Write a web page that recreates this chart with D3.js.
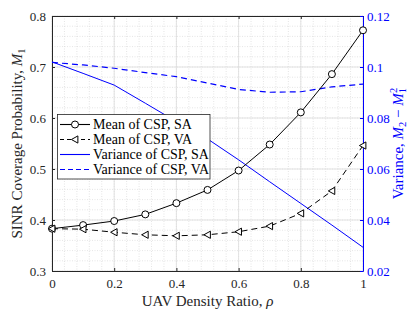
<!DOCTYPE html>
<html><head><meta charset="utf-8">
<script src="https://cdn.jsdelivr.net/npm/d3@7"></script>
<style>body{margin:0;background:#fff}svg{display:block}svg text{font-family:'Liberation Serif','DejaVu Serif',serif !important}</style>
</head><body><svg id="c" width="415" height="312" font-family="Liberation Serif, serif"></svg>
<script>
const rho = [0,0.1,0.2,0.3,0.4,0.5,0.6,0.7,0.8,0.9,1.0];
const meanSA = [0.383,0.390,0.398,0.411,0.433,0.459,0.497,0.548,0.611,0.686,0.772];
const meanVA = [0.383,0.382,0.376,0.371,0.369,0.371,0.377,0.388,0.413,0.457,0.546];
const varSA = [0.102,0.0975,0.0929,0.0858,0.0786,0.0718,0.0636,0.055,0.0465,0.038,0.0293];
const varVA = [0.1018,0.1008,0.0995,0.0978,0.0962,0.0937,0.0912,0.0901,0.0903,0.0922,0.0933];
const xTicks = [0,0.2,0.4,0.6,0.8,1];
const xTickLabels = ["0","0.2","0.4","0.6","0.8","1"];
const yTicks = [0.3,0.4,0.5,0.6,0.7,0.8];
const y2Ticks = [0.02,0.04,0.06,0.08,0.1,0.12];
const legendLabels = ["Mean of CSP, SA","Mean of CSP, VA","Variance of CSP, SA","Variance of CSP, VA"];

const svg = d3.select("#c");
const L=52, R=363, T=16, B=271;
const x = d3.scaleLinear().domain([0,1]).range([L,R]);
const y = d3.scaleLinear().domain([0.3,0.8]).range([B,T]);
const y2 = d3.scaleLinear().domain([0.02,0.12]).range([B,T]);
const axisCol="#262626", blue="#0000ff";
const FF="'Liberation Serif','DejaVu Serif',serif";

// minor grid
const g = svg.append("g");
d3.range(0,1.0001,0.04).forEach(v=>{ g.append("line").attr("x1",x(v)).attr("x2",x(v)).attr("y1",T).attr("y2",B).attr("stroke","#d4d4d4").attr("stroke-width",0.6).attr("stroke-dasharray","1,1.5");});
d3.range(0.3,0.8001,0.02).forEach(v=>{ g.append("line").attr("y1",y(v)).attr("y2",y(v)).attr("x1",L).attr("x2",R).attr("stroke","#d4d4d4").attr("stroke-width",0.6).attr("stroke-dasharray","1,1.5");});
// major grid
xTicks.forEach(v=>g.append("line").attr("x1",x(v)).attr("x2",x(v)).attr("y1",T).attr("y2",B).attr("stroke","#dcdcdc").attr("stroke-width",0.8));
yTicks.forEach(v=>g.append("line").attr("y1",y(v)).attr("y2",y(v)).attr("x1",L).attr("x2",R).attr("stroke","#dcdcdc").attr("stroke-width",0.8));

// axes
const fs=13;
const xa = svg.append("g").attr("transform",`translate(0,${B})`).call(d3.axisBottom(x).tickValues(xTicks).tickFormat((d,i)=>xTickLabels[i]).tickSizeInner(-3).tickSizeOuter(0).tickPadding(8));
const xt = svg.append("g").attr("transform",`translate(0,${T})`).call(d3.axisTop(x).tickValues(xTicks).tickFormat("").tickSizeInner(-3).tickSizeOuter(0));
const ya = svg.append("g").attr("transform",`translate(${L},0)`).call(d3.axisLeft(y).tickValues(yTicks).tickFormat(d3.format(".1f")).tickSizeInner(-3).tickSizeOuter(0).tickPadding(6));
const ya2 = svg.append("g").attr("transform",`translate(${R},0)`).call(d3.axisRight(y2).tickValues(y2Ticks).tickFormat(d=>d===0.1?"0.1":d3.format(".2f")(d)).tickSizeInner(-3).tickSizeOuter(0).tickPadding(4));
[xa,xt,ya,ya2].forEach(a=>a.attr("font-family",FF).attr("font-size",fs));
[xa,xt,ya].forEach(a=>{a.select(".domain").attr("stroke",axisCol).attr("stroke-width",1);a.selectAll(".tick line").attr("stroke",axisCol);a.selectAll("text").attr("fill",axisCol);});
ya2.select(".domain").attr("stroke",blue).attr("stroke-width",1);
ya2.selectAll(".tick line").attr("stroke",blue);
ya2.selectAll("text").attr("fill",blue);

// lines
const pts = (ys,sc)=>rho.map((r,i)=>[x(r),sc(ys[i])]);
const line = d3.line();
svg.append("path").attr("d",line(pts(varSA,y2))).attr("fill","none").attr("stroke",blue).attr("stroke-width",1);
svg.append("path").attr("d",line(pts(varVA,y2))).attr("fill","none").attr("stroke",blue).attr("stroke-width",1.2).attr("stroke-dasharray","6,4");
svg.append("path").attr("d",line(pts(meanSA,y))).attr("fill","none").attr("stroke","#000").attr("stroke-width",1);
svg.append("path").attr("d",line(pts(meanVA,y))).attr("fill","none").attr("stroke","#000").attr("stroke-width",1).attr("stroke-dasharray","6,4");
const tri = (cx,cy,s)=>`M${cx-s},${cy}L${cx+s*0.8},${cy-s}L${cx+s*0.8},${cy+s}Z`;
pts(meanSA,y).forEach(p=>svg.append("circle").attr("cx",p[0]).attr("cy",p[1]).attr("r",3.5).attr("fill","#fff").attr("stroke","#000").attr("stroke-width",1));
pts(meanVA,y).forEach(p=>svg.append("path").attr("d",tri(p[0],p[1],3.6)).attr("fill","#fff").attr("stroke","#000").attr("stroke-width",1));

// legend
const lg = svg.append("g").attr("font-family",FF);
lg.append("rect").attr("x",57.5).attr("y",114.5).attr("width",152.5).attr("height",64.5).attr("fill","#fff").attr("stroke","#262626").attr("stroke-width",0.8);
const rows=[124.5,139.5,154.5,169.5];
const styles=[{c:"#000",d:null,m:"o"},{c:"#000",d:"4,3",m:"t"},{c:blue,d:null,m:null},{c:blue,d:"5,3",m:null}];
rows.forEach((ry,i)=>{
  const s=styles[i];
  lg.append("line").attr("x1",60).attr("x2",90).attr("y1",ry).attr("y2",ry).attr("stroke",s.c).attr("stroke-width",1.1).attr("stroke-dasharray",s.d);
  if(s.m==="o") lg.append("circle").attr("cx",75).attr("cy",ry).attr("r",3.5).attr("fill","#fff").attr("stroke","#000");
  if(s.m==="t") lg.append("path").attr("d",tri(75,ry,3.6)).attr("fill","#fff").attr("stroke","#000");
  lg.append("text").attr("x",93).attr("y",ry+4.5).attr("fill","#000").attr("font-size",14).text(legendLabels[i]);
});

// axis titles
const xl = svg.append("text").attr("x",(L+R)/2).attr("y",306).attr("text-anchor","middle").attr("fill",axisCol).attr("font-family",FF).attr("font-size",15);
xl.append("tspan").text("UAV Density Ratio, ");
xl.append("tspan").attr("font-style","italic").text("ρ");

const yl = svg.append("text").attr("transform",`translate(22,${(T+B)/2}) rotate(-90)`).attr("text-anchor","middle").attr("fill",axisCol).attr("font-family",FF).attr("font-size",15);
yl.append("tspan").text("SINR Coverage Probability, ");
yl.append("tspan").attr("font-style","italic").text("M");
yl.append("tspan").attr("dy",3).attr("font-size",10.5).text("1");

const yr = svg.append("text").attr("transform",`translate(403,${(T+B)/2}) rotate(-90)`).attr("text-anchor","middle").attr("fill",blue).attr("font-family",FF).attr("font-size",15);
yr.append("tspan").text("Variance, ");
yr.append("tspan").attr("font-style","italic").text("M");
yr.append("tspan").attr("dy",3).attr("font-size",10.5).text("2");
yr.append("tspan").attr("dy",-3).text(" − ");
yr.append("tspan").attr("font-style","italic").text("M");
yr.append("tspan").attr("dy",3).attr("font-size",10.5).text("1");
yr.append("tspan").attr("dx",-5).attr("dy",-9).attr("font-size",10.5).text("2");
</script></body></html>
